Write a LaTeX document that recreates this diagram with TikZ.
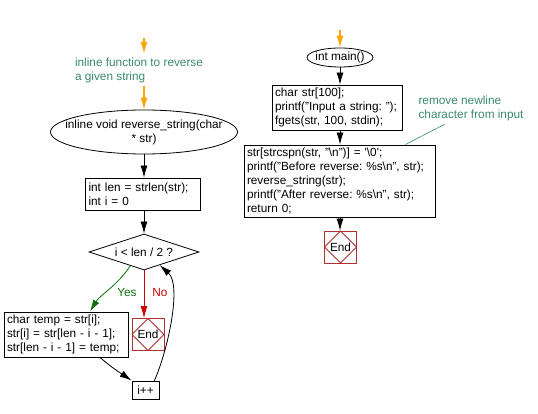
\documentclass[tikz,border=0pt]{standalone}
\usepackage{fontspec}
\setmainfont{Liberation Sans}
\usetikzlibrary{arrows.meta, positioning, shapes.geometric, calc}
\definecolor{corange}{HTML}{FFA500}
\definecolor{cnote}{HTML}{3A8A6A}
\definecolor{cyes}{HTML}{0A700A}
\definecolor{cno}{HTML}{CC0000}
\definecolor{cend}{HTML}{B03030}
\frenchspacing
\tikzset{
  every picture/.style={font=\fontsize{11.8}{14}\selectfont, line width=0.8pt},
  box/.style={draw, align=left, inner sep=3pt, text width=#1},
  box/.default=100pt,
  oval/.style={draw, ellipse, inner sep=0pt, align=center},
  decision/.style={draw, diamond, aspect=3, inner sep=0pt, minimum width=110pt, minimum height=36pt},
  endbox/.style={draw=cend, minimum size=32pt, inner sep=0pt,
    path picture={\draw[cend] (path picture bounding box.north) -- (path picture bounding box.east)
      -- (path picture bounding box.south) -- (path picture bounding box.west) -- cycle;}},
  arrow/.style={-{Latex[length=12pt, width=7pt]}},
  orangearrow/.style={arrow, draw=corange, line width=1.2pt},
  note/.style={text=cnote, align=left},
}
\begin{document}
\begin{tikzpicture}[x=1pt, y=-1pt]
  \useasboundingbox (0,0) rectangle (538,414);
  % ---- reverse_string
  \coordinate (lstart) at (144,38);
  \node[note] (lnote) at (139,70) {inline function to reverse\\a given string};
  \node[oval, minimum width=187pt, minimum height=44pt] (fn) at (144,132)
    {\makebox[120pt]{inline void reverse\_string(char}\\\makebox[120pt]{* str)}};
  \node[box=109pt, minimum height=32pt] (init) at (143,194) {int len = strlen(str);\\int i = 0};
  \node[decision] (cond) at (144,252) {i < len / 2 ?};
  \node[box=118pt, minimum height=45pt] (swap) at (66,334.5)
    {char temp = str[i];\\str[i] = str[len - i - 1];\\str[len - i - 1] = temp;};
  \node[endbox] (endl) at (148,334.5) {End};
  \node[draw, minimum width=27pt, minimum height=18pt, inner sep=0pt] (inc) at (145.5,390) {i++};
  \node[text=cyes] (yes) at (127,292) {Yes};
  \node[text=cno] (no) at (160,292) {No};
  \draw[orangearrow] (lstart) -- (lstart |- lnote.north);
  \draw[orangearrow] (lnote.south -| fn.north) -- (fn.north);
  \draw[arrow] (fn.south) -- (fn.south |- init.north);
  \draw[arrow] (init.south -| cond.north) -- (cond.north);
  \draw[arrow, cyes] (cond.-135) .. controls (118,285) and (100,295) .. ($(swap.north)+(24,0)$);
  \draw[arrow, cno] (cond.south) -- (cond.south |- endl.north);
  \draw[arrow] ($(swap.south)+(34,0)$) .. controls (112,368) and (122,374) .. (inc.north west);
  \draw[arrow] ($(inc.north east)+(-5,0)$) .. controls (168,350) and (182,285) .. (cond.-40);
  % ---- main
  \coordinate (rstart) at (340,30);
  \node[oval, minimum width=66pt, minimum height=19pt] (main) at (340,57.5) {\makebox[40pt]{int main()}};
  \node[box=124pt, minimum height=45pt] (rin) at (337,107.5)
    {char str[100];\\printf("Input a string: ");\\fgets(str, 100, stdin);};
  \node[note] (rnote) at (471,108) {remove newline\\character from input};
  \node[box=185pt, minimum height=72pt] (body) at (339.5,181)
    {str[strcspn(str, "\textbackslash n")] = \textquotesingle\textbackslash 0\textquotesingle;\\
     printf("Before reverse: \%s\textbackslash n", str);\\
     reverse\_string(str);\\
     printf("After reverse: \%s\textbackslash n", str);\\
     return 0;};
  \node[endbox] (endr) at (340.5,247) {End};
  \draw[orangearrow] (rstart) -- (main.north);
  \draw[arrow] (main.south) -- (main.south |- rin.north);
  \draw[arrow] (rin.south -| main.south) -- (body.north -| main.south);
  \draw[arrow] (body.south -| main.south) -- (endr.north -| main.south);
  \draw[cnote, line width=0.6pt] ($(rnote.south west)+(30,0)$) -- ($(body.north east)+(-30,0)$);
\end{tikzpicture}
\end{document}
